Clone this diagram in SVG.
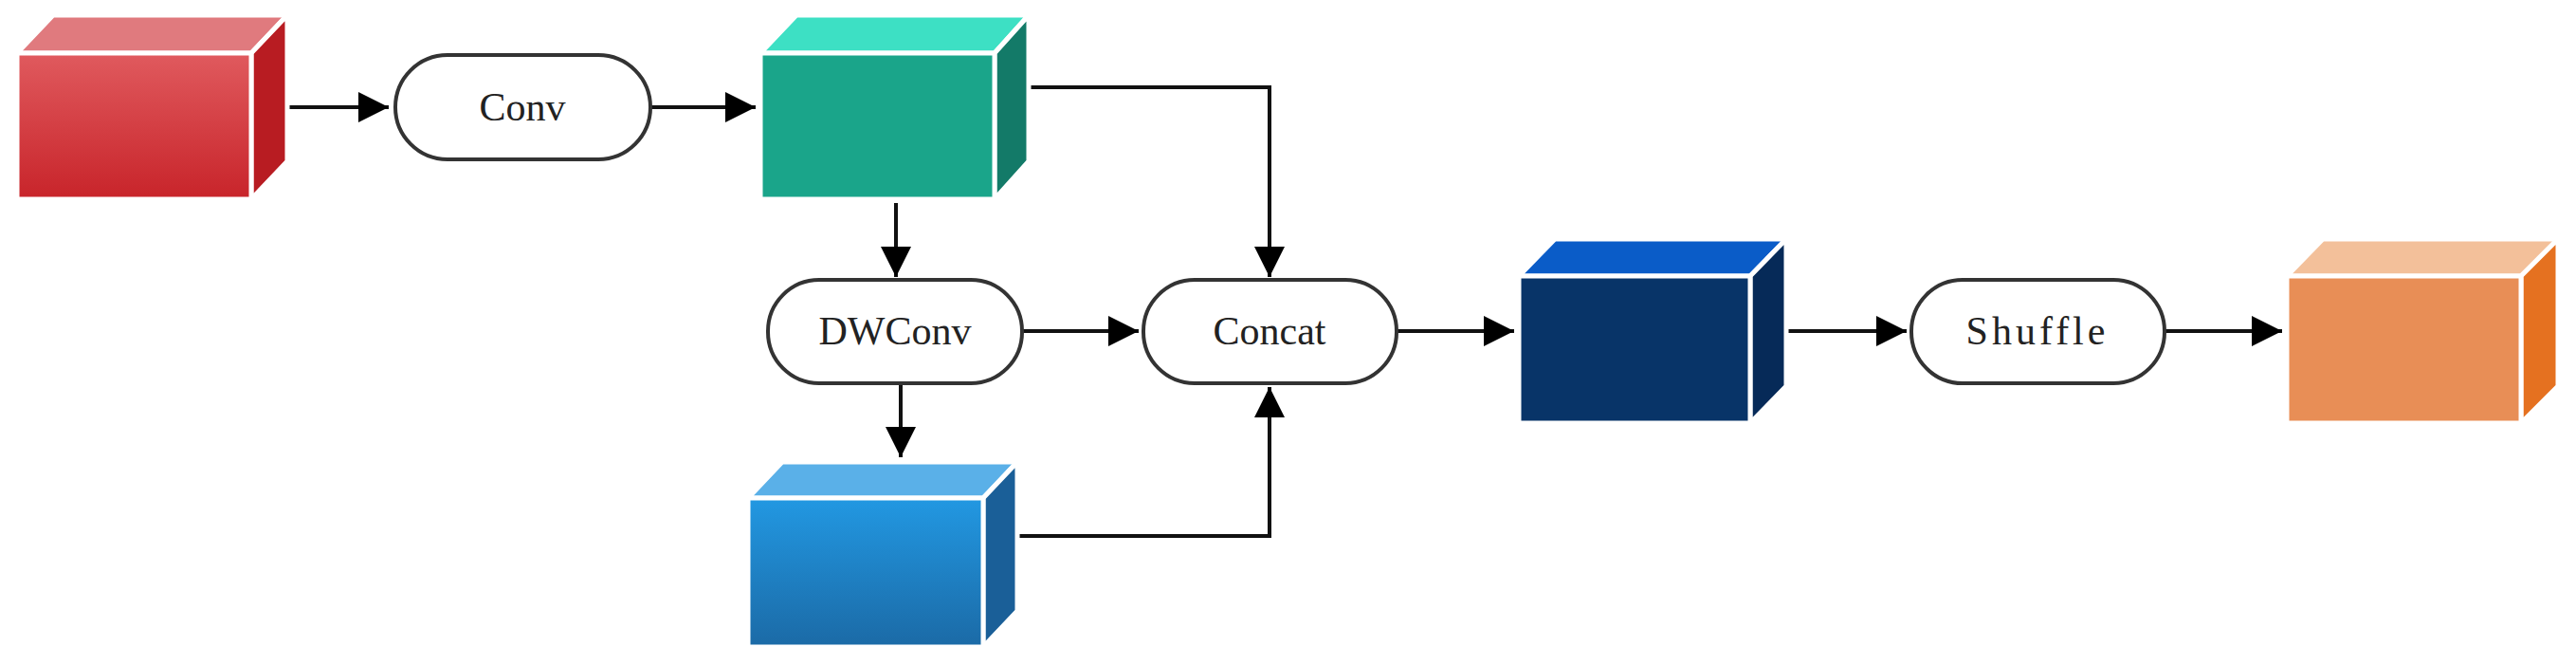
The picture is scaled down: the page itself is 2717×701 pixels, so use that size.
<svg xmlns="http://www.w3.org/2000/svg" width="2717" height="701" viewBox="0 0 2717 701">
<defs>
<style>
.pill{fill:#fff;stroke:#333;stroke-width:4}
.lbl{font-family:"Liberation Serif",serif;font-size:42px;fill:#222;text-anchor:middle;dominant-baseline:central}
.e{stroke:#fff;stroke-width:5;stroke-linejoin:round}
.c{fill:none;stroke:#111;stroke-width:4}
</style>
<marker id="a" viewBox="0 0 10 10" refX="10" refY="5" markerWidth="8" markerHeight="8" orient="auto" markerUnits="strokeWidth"><path d="M0,0L10,5L0,10Z" fill="#000"/></marker>
<linearGradient id="gr" x1="0" y1="0" x2="0" y2="1"><stop offset="0" stop-color="#e05a5e"/><stop offset="1" stop-color="#c8242a"/></linearGradient>
<linearGradient id="gb" x1="0" y1="0" x2="0" y2="1"><stop offset="0" stop-color="#2298e2"/><stop offset="1" stop-color="#1b6aa6"/></linearGradient>
</defs>
<g id="connectors">
<path class="c" d="M265,113H410" marker-end="url(#a)"/>
<path class="c" d="M686,113H797" marker-end="url(#a)"/>
<path class="c" d="M945,214V292" marker-end="url(#a)"/>
<path class="c" d="M950,404V482" marker-end="url(#a)"/>
<path class="c" d="M1086,92H1339V292" marker-end="url(#a)"/>
<path class="c" d="M1078,349H1201" marker-end="url(#a)"/>
<path class="c" d="M1075,565H1339V408" marker-end="url(#a)"/>
<path class="c" d="M1473,349H1597" marker-end="url(#a)"/>
<path class="c" d="M1886,349H2011" marker-end="url(#a)"/>
<path class="c" d="M2283,349H2407" marker-end="url(#a)"/>
</g>
<g id="input">
<path class="e" d="M18,56L56,16H303L265,56Z" fill="#e07a7e"/>
<path class="e" d="M265,56L303,16V170L265,210Z" fill="#b81c22"/>
<rect class="e" x="18" y="56" width="247" height="154" fill="url(#gr)"/>
</g>
<g id="conv"><rect class="pill" x="417" y="58" width="269" height="110" rx="55"/><text class="lbl" x="551" y="113">Conv</text></g>
<g id="feat1">
<path class="e" d="M802,56L840,16H1085L1049,56Z" fill="#3de0c4"/>
<path class="e" d="M1049,56L1085,16V170L1049,210Z" fill="#137a68"/>
<rect class="e" x="802" y="56" width="247" height="154" fill="#1aa58a"/>
</g>
<g id="dwconv"><rect class="pill" x="810" y="295" width="268" height="109" rx="54"/><text class="lbl" x="944" y="349">DWConv</text></g>
<g id="feat2">
<path class="e" d="M789,525L825,487H1073L1037,525Z" fill="#5ab0e8"/>
<path class="e" d="M1037,525L1073,487V644L1037,682Z" fill="#1a5f98"/>
<rect class="e" x="789" y="525" width="248" height="157" fill="url(#gb)"/>
</g>
<g id="concat"><rect class="pill" x="1206" y="295" width="267" height="109" rx="54"/><text class="lbl" x="1339" y="349">Concat</text></g>
<g id="merged">
<path class="e" d="M1602,291L1640,252H1884L1846,291Z" fill="#0a5cc8"/>
<path class="e" d="M1846,291L1884,252V407L1846,446Z" fill="#062a58"/>
<rect class="e" x="1602" y="291" width="244" height="155" fill="#083468"/>
</g>
<g id="shuffle"><rect class="pill" x="2016" y="295" width="267" height="109" rx="54"/><text class="lbl" x="2149" y="349" letter-spacing="4">Shuffle</text></g>
<g id="output">
<path class="e" d="M2412,291L2450,252H2698L2659,291Z" fill="#f3c09a"/>
<path class="e" d="M2659,291L2698,252V407L2659,446Z" fill="#e57120"/>
<rect class="e" x="2412" y="291" width="247" height="155" fill="#e88e56"/>
</g>
</svg>
